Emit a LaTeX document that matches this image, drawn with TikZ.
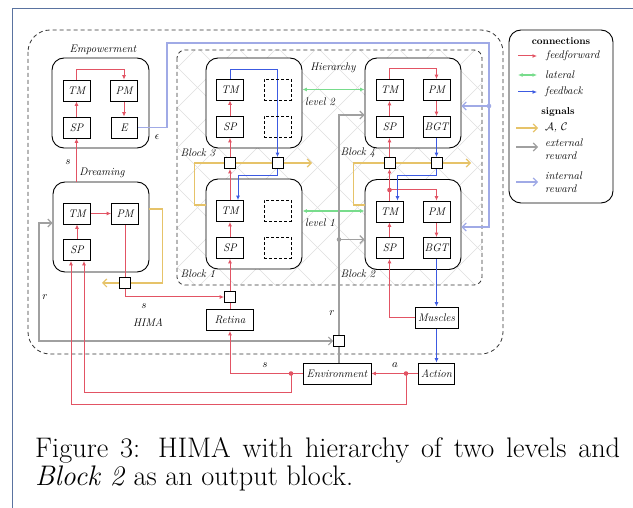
\documentclass[tikz,border=0pt]{standalone}
\usetikzlibrary{arrows.meta,calc}
\definecolor{cRed}{RGB}{226,84,100}
\definecolor{cGreen}{RGB}{120,220,140}
\definecolor{cBlue}{RGB}{60,90,225}
\definecolor{cYel}{RGB}{230,195,105}
\definecolor{cGray}{RGB}{160,160,160}
\definecolor{cIR}{RGB}{160,170,230}
\definecolor{cFrame}{RGB}{90,115,160}
\definecolor{cHatch}{RGB}{222,222,222}
\pgfdeclarelayer{bg}
\pgfdeclarelayer{blocks}
\pgfdeclarelayer{lines}
\pgfsetlayers{bg,blocks,lines,main}
\begin{document}
\begin{tikzpicture}[x=1pt,y=-1pt,
 lbl/.style={font=\fontsize{11}{13}\selectfont\itshape, inner sep=1pt},
 mod/.style={draw, fill=white, line width=0.8pt, minimum width=27pt, minimum height=21pt, inner sep=0pt, font=\fontsize{11}{13}\selectfont\itshape},
 dmod/.style={draw, dash pattern=on 3pt off 2pt, line width=0.8pt, minimum width=27pt, minimum height=21pt, inner sep=0pt},
 blk/.style={draw, fill=white, rounded corners=12pt, line width=0.9pt, minimum width=96pt, minimum height=90pt, inner sep=0pt},
 sqbox/.style={draw, fill=white, line width=0.8pt, minimum size=11pt, inner sep=0pt},
 ff/.style={draw=cRed, line width=1pt, -{Latex[length=4.5pt,width=4pt]}},
 ffl/.style={draw=cRed, line width=1pt},
 fb/.style={draw=cBlue, line width=1pt, -{Latex[length=4.5pt,width=4pt]}},
 lat/.style={draw=cGreen, line width=1.2pt, {Latex[length=4.5pt,width=4pt]}-{Latex[length=4.5pt,width=4pt]}},
 yelA/.style={draw=cYel, line width=1.2pt, -{Straight Barb[length=4pt,width=8pt]}},
 grl/.style={draw=cGray, line width=1.1pt},
 grA/.style={draw=cGray, line width=1.1pt, -{Straight Barb[length=4pt,width=8pt]}},
 grB/.style={draw=cGray, line width=1.1pt, {Straight Barb[length=4pt,width=8pt]}-{Straight Barb[length=4pt,width=8pt]}},
 irA/.style={draw=cIR, line width=1.2pt, -{Straight Barb[length=4pt,width=8pt]}},
 frameline/.style={draw=black!80, line width=0.8pt, dash pattern=on 4pt off 3pt},
 hatch/.style={draw=cHatch, line width=0.5pt}
]
\useasboundingbox (0,0) rectangle (633,508);
% page frame
\draw[cFrame, line width=0.8pt] (12,508) -- (12,8) -- (633,8);

\begin{pgfonlayer}{bg}
\draw[frameline, rounded corners=22pt] (28,30) rectangle (503,354);
\begin{scope}
\clip[rounded corners=8pt] (177,50) rectangle (482,285);
\foreach \i in {-80,-40,...,500} {
  \draw[hatch] (\i,50) -- ++(235,235);
  \draw[hatch] (\i,285) -- ++(235,-235);
}
\end{scope}
\draw[frameline, rounded corners=8pt] (177,50) rectangle (482,285);
\end{pgfonlayer}

\begin{pgfonlayer}{blocks}
\node[blk, minimum width=97pt] (emp) at (100.5,103) {};
\node[blk] (drm) at (101,227) {};
\node[blk] (b3) at (254,103) {};
\node[blk] (b1) at (254,224) {};
\node[blk] (b4) at (413,103) {};
\node[blk] (b2) at (413,224.5) {};
\node[draw, rounded corners=12pt, line width=0.9pt, minimum width=104pt, minimum height=173pt] (leg) at (561,116.5) {};
\end{pgfonlayer}

% labels
\node[lbl] (lEmp) at (103,50) {Empowerment};
\node[lbl] (lDrm) at (102,173) {Dreaming};
\node[lbl] (lHier) at (333,68) {Hierarchy};
\node[lbl] (lB3) at (198,153) {Block 3};
\node[lbl] (lB1) at (198,274) {Block 1};
\node[lbl] (lB4) at (358,153) {Block 4};
\node[lbl] (lB2) at (358,274) {Block 2};
\node[lbl] (lL2) at (320,102) {level 2};
\node[lbl] (lL1) at (320,223) {level 1};
\node[lbl] (lHIMA) at (148,323) {HIMA};
\node[lbl] (ls1) at (68,162) {$s$};
\node[lbl] (ls2) at (144,306) {$s$};
\node[lbl] (ls3) at (265,365) {$s$};
\node[lbl] (la) at (395,365) {$a$};
\node[lbl] (lr1) at (45,297) {$r$};
\node[lbl] (lr2) at (332,313) {$r$};
\node[lbl] (leps) at (157,137) {$\epsilon$};

% Empowerment modules
\node[mod] (eTM) at (76.5,90.5) {TM};
\node[mod] (ePM) at (124,90.5) {PM};
\node[mod] (eSP) at (76.5,127.5) {SP};
\node[mod, minimum width=26pt] (eE) at (124,127.5) {E};
% Dreaming
\node[mod] (dTM) at (77,213.5) {TM};
\node[mod] (dPM) at (125,213.5) {PM};
\node[mod] (dSP) at (77,250) {SP};
% Block 3
\node[mod] (b3TM) at (230,89.5) {TM};
\node[dmod] (b3D1) at (277.5,89.5) {};
\node[mod] (b3SP) at (230,127) {SP};
\node[dmod] (b3D2) at (277.5,127) {};
% Block 1
\node[mod] (b1TM) at (230,211) {TM};
\node[dmod] (b1D1) at (277.5,211) {};
\node[mod] (b1SP) at (230,248) {SP};
\node[dmod] (b1D2) at (277.5,248) {};
% Block 4
\node[mod] (b4TM) at (389.5,90) {TM};
\node[mod] (b4PM) at (436.5,90) {PM};
\node[mod] (b4SP) at (389.5,127) {SP};
\node[mod] (b4BGT) at (436.5,127) {BGT};
% Block 2
\node[mod] (b2TM) at (389.5,211.5) {TM};
\node[mod] (b2PM) at (436.5,211.5) {PM};
\node[mod] (b2SP) at (389.5,248) {SP};
\node[mod] (b2BGT) at (436.5,248) {BGT};
% squares
\node[sqbox] (s3a) at (230,163) {};
\node[sqbox] (s3b) at (277.5,163) {};
\node[sqbox] (s4a) at (389.5,163) {};
\node[sqbox] (s4b) at (436.5,163) {};
\node[sqbox] (sD) at (125,283) {};
\node[sqbox] (s1) at (230,297) {};
\node[sqbox] (sG) at (339,341) {};
% other boxes
\node[mod, minimum width=47pt] (ret) at (230,320) {Retina};
\node[mod, minimum width=43pt] (mus) at (436.5,317.5) {Muscles};
\node[mod, minimum width=68pt] (env) at (337,373.5) {Environment};
\node[mod, minimum width=36pt] (act) at (436.5,373.5) {Action};

\coordinate (dot2) at (389.5,190);
\coordinate (dE) at (291,373.5);
\coordinate (dA) at (406,373.5);
\coordinate (g4) at (339,115);
\coordinate (g2) at (339,239.5);
\coordinate (gLt) at (39,223);
\coordinate (gL) at (39,341);
\coordinate (ir1) at (167,43);
\coordinate (ir2) at (489,43);
\coordinate (irD) at (489,106);

\begin{pgfonlayer}{lines}
% Empowerment
\draw[ff] (eSP.north) -- (eTM.south);
\draw[ff] (eTM.north) -- ++(0,-10) -| (ePM.north);
\draw[ff] (ePM.south) -- (eE.north);
\draw[ff] (drm.north -| eSP) -- (eSP.south);
% Dreaming
\draw[ff] (dSP.north) -- (dTM.south);
\draw[ff] (dTM.east) -- (dPM.west);
\draw[ffl] (dPM.south) -- (sD.north);
\draw[ff] (sD.south) |- (s1.west);
\draw[yelA] ($(drm.east)+(0,-18)$) -- ++(13,0) |- ($(sD)+(-23,0)$);
% Block 1 / 3
\draw[ffl] (ret.north) -- (s1.south);
\draw[ff] (s1.north) -- (b1SP.south);
\draw[ff] (b1SP.north) -- (b1TM.south);
\draw[ff] (b1TM.north) -- (s3a.south);
\draw[ff] (s3a.north) -- (b3SP.south);
\draw[ff] (b3SP.north) -- (b3TM.south);
\draw[fb] (b3TM.north) -- ++(0,-9.5) -| (s3b.north);
\draw[fb] (s3b.south) -- ++(0,7) -| ([xshift=8pt]b1TM.north);
\draw[yelA] ($(b1.west)+(0,-19)$) -- ++(-11,0) |- ($(s3b)+(34.5,0)$);
% Block 4 / 2
\draw[ff] (s4a.north) -- (b4SP.south);
\draw[ff] (b4SP.north) -- (b4TM.south);
\draw[ff] (b4TM.north) -- ++(0,-11) -| (b4PM.north);
\draw[ff] (b4PM.south) -- (b4BGT.north);
\draw[fb] (b4BGT.south) -- (s4b.north);
\draw[ff] (b2TM.north) -- (s4a.south);
\draw[ff] (dot2) -| (b2PM.north);
\draw[ff] (b2SP.north) -- (b2TM.south);
\draw[ff] (b2PM.south) -- (b2BGT.north);
\draw[fb] (s4b.south) -- ++(0,7) -| ([xshift=8pt]b2TM.north);
\draw[fb] (b2BGT.south) -- (mus.north);
\draw[ff] (mus.west) -| (b2SP.south);
\draw[fb] (mus.south) -- (act.north);
\draw[yelA] ($(b2.west)+(0,-19.5)$) -- ++(-11,0) |- ($(s4b)+(34.5,0)$);
% lateral
\draw[lat] (b3.east |- b3TM) -- (b4.west |- b3TM);
\draw[lat] (b1.east |- b1TM) -- (b2.west |- b1TM);
% external reward
\draw[grl] (env.north -| sG) -- (sG.south);
\draw[grA] (sG.north) -- (g4) -- (g4 -| b4.west);
\draw[grA] (g2) -- (g2 -| b2.west);
\draw[grB] (gLt -| drm.west) -- (gLt) -- (gL) -- (sG.west);
% internal reward
\draw[irA] (eE.east) -| (ir1) -- (ir2) |- ($(b2.east)+(0,2.5)$);
\draw[irA] (irD) -- (irD -| b4.east);
% environment loop
\draw[ff] (act.west) -- (env.east);
\draw[ffl] (env.west) -- (dE);
\draw[ff] (dE) -| (ret.south);
\draw[ff] (dE) -- ++(0,18.5) -| ([xshift=7pt]dSP.south);
\draw[ff] (dA) -- ++(0,30.5) -| ([xshift=-6pt]dSP.south);
\end{pgfonlayer}
\fill[cRed] (dot2) circle (2.3pt);
\fill[cRed] (dE) circle (2.3pt);
\fill[cRed] (dA) circle (2.3pt);
\fill[cGray] (g2) circle (2.3pt);
\fill[cIR] (irD) circle (2.3pt);

% legend
\node[font=\fontsize{10}{12}\selectfont\bfseries] (lgC) at (561,41) {connections};
\node[font=\fontsize{10}{12}\selectfont\bfseries] (lgS) at (558,112) {signals};
\coordinate (a1s) at (518,56); \coordinate (a1e) at (537,56);
\coordinate (a2s) at (518,75); \coordinate (a2e) at (537,75);
\coordinate (a3s) at (518,92); \coordinate (a3e) at (537,92);
\coordinate (a4s) at (516,128); \coordinate (a4e) at (538,128);
\coordinate (a5s) at (516,147); \coordinate (a5e) at (538,147);
\coordinate (a6s) at (516,182); \coordinate (a6e) at (538,182);
\draw[ff] (a1s) -- (a1e);
\draw[lat] (a2s) -- (a2e);
\draw[fb] (a3s) -- (a3e);
\draw[yelA] (a4s) -- (a4e);
\draw[grA] (a5s) -- (a5e);
\draw[irA] (a6s) -- (a6e);
\node[lbl, anchor=west] (lg1) at (545,56) {feedforward};
\node[lbl, anchor=west] (lg2) at (544,75) {lateral};
\node[lbl, anchor=west] (lg3) at (544,92) {feedback};
\node[lbl, anchor=west] (lg4) at (544,128) {$\mathcal{A}$, $\mathcal{C}$};
\node[lbl, anchor=north west, align=left] (lg5) at (544,138) {external\\reward};
\node[lbl, anchor=north west, align=left] (lg6) at (544,171) {internal\\reward};

% caption
\node[anchor=base west, inner sep=0pt, font=\fontsize{28.3}{28}\selectfont] (cap1) at (35,457) {\makebox[585pt][s]{Figure 3: HIMA with hierarchy of two levels and}};
\node[anchor=base west, inner sep=0pt, font=\fontsize{28.3}{28}\selectfont] (cap2) at (35,485) {\textit{Block 2} as an output block.};
\end{tikzpicture}
\end{document}
